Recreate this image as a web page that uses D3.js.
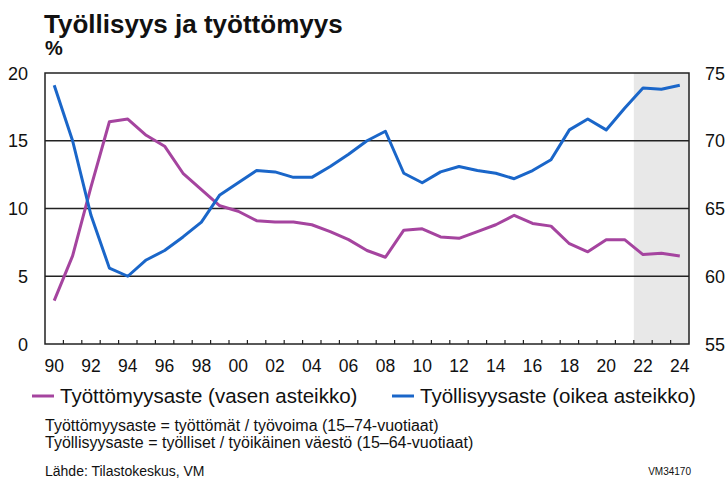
<!DOCTYPE html>
<html>
<head>
<meta charset="utf-8">
<script src="https://cdn.jsdelivr.net/npm/d3@7"></script>
<style>
  body { margin: 0; background: #fff; }
  svg { font-family: "Liberation Sans", Arial, sans-serif; }
</style>
</head>
<body>
<div id="chart"></div>
<script>
// Years on the x axis
var years = d3.range(1990, 2025);
// Työttömyysaste, % (left axis)
var unemployment = [3.2, 6.5, 11.6, 16.4, 16.6, 15.4, 14.6, 12.6, 11.4, 10.2,
	9.8, 9.1, 9.0, 9.0, 8.8, 8.3, 7.7, 6.9, 6.4, 8.4,
	8.5, 7.9, 7.8, 8.3, 8.8, 9.5, 8.9, 8.7, 7.4, 6.8,
	7.7, 7.7, 6.6, 6.7, 6.5];
// Työllisyysaste, % (right axis)
var employment = [74.1, 70.0, 64.5, 60.6, 60.0, 61.2, 61.9, 62.9, 64.0, 66.0,
	66.9, 67.8, 67.7, 67.3, 67.3, 68.1, 69.0, 70.0, 70.7, 67.6,
	66.9, 67.7, 68.1, 67.8, 67.6, 67.2, 67.8, 68.6, 70.8, 71.6,
	70.8, 72.4, 73.9, 73.8, 74.1];
// Forecast years (shaded)
var forecastYears = [2022, 2023, 2024];
var leftTicks = [0, 5, 10, 15, 20];
var rightTicks = [55, 60, 65, 70, 75];
var legendItems = [
	{ label: "Työttömyysaste (vasen asteikko)", color: "#a5449f" },
	{ label: "Työllisyysaste (oikea asteikko)", color: "#1a66c9" }
];
var notes = [
	"Työttömyysaste = työttömät / työvoima (15–74-vuotiaat)",
	"Työllisyysaste = työlliset / työikäinen väestö (15–64-vuotiaat)"
];

// Canvas parameters
var canvas = { width: 728, height: 478 };
var plot = { left: 45, right: 689, top: 73, bottom: 344 };

var svg = d3.select("#chart")
	.append("svg")
	.attr("width", canvas.width)
	.attr("height", canvas.height);

var x = d3.scaleBand()
	.domain(years)
	.range([plot.left, plot.right]);
var yLeft = d3.scaleLinear()
	.domain([0, 20])
	.range([plot.bottom, plot.top]);
var yRight = d3.scaleLinear()
	.domain([55, 75])
	.range([plot.bottom, plot.top]);
var cx = function(d) { return x(d) + x.bandwidth() / 2; };

// Forecast shading
svg.append("rect")
	.attr("x", x(forecastYears[0]))
	.attr("y", plot.top)
	.attr("width", x(forecastYears[forecastYears.length - 1]) + x.bandwidth() - x(forecastYears[0]))
	.attr("height", plot.bottom - plot.top)
	.attr("fill", "#e8e8e8");

// Grid lines
svg.selectAll("grid")
	.data(leftTicks.slice(1, -1))
	.enter()
	.append("line")
	.attr("x1", plot.left)
	.attr("x2", plot.right)
	.attr("y1", function(d) { return yLeft(d); })
	.attr("y2", function(d) { return yLeft(d); })
	.attr("stroke", "#222")
	.attr("stroke-width", 1.3);

// Frame
svg.append("rect")
	.attr("x", plot.left)
	.attr("y", plot.top)
	.attr("width", plot.right - plot.left)
	.attr("height", plot.bottom - plot.top)
	.attr("fill", "none")
	.attr("stroke", "#222")
	.attr("stroke-width", 1.5);

// Year ticks at band boundaries, pointing inward
svg.selectAll("ytick")
	.data(years.slice(1))
	.enter()
	.append("line")
	.attr("x1", function(d) { return x(d); })
	.attr("x2", function(d) { return x(d); })
	.attr("y1", plot.bottom)
	.attr("y2", plot.bottom - 4)
	.attr("stroke", "#222")
	.attr("stroke-width", 1.2);

// Year labels
svg.selectAll("xlabel")
	.data(years.filter(function(d) { return d % 2 === 0; }))
	.enter()
	.append("text")
	.text(function(d) { return String(d).slice(2); })
	.attr("x", cx)
	.attr("y", 372)
	.attr("text-anchor", "middle")
	.attr("font-size", "17.5px")
	.attr("fill", "#111");

// Left axis labels
svg.selectAll("llabel")
	.data(leftTicks)
	.enter()
	.append("text")
	.text(function(d) { return d; })
	.attr("x", 28)
	.attr("y", function(d) { return yLeft(d) + 6.5; })
	.attr("text-anchor", "end")
	.attr("font-size", "18px")
	.attr("fill", "#111");

// Right axis labels
svg.selectAll("rlabel")
	.data(rightTicks)
	.enter()
	.append("text")
	.text(function(d) { return d; })
	.attr("x", 705)
	.attr("y", function(d) { return yRight(d) + 6.5; })
	.attr("font-size", "18px")
	.attr("fill", "#111");

// Lines
var lineLeft = d3.line()
	.x(function(d, i) { return cx(years[i]); })
	.y(function(d) { return yLeft(d); });
var lineRight = d3.line()
	.x(function(d, i) { return cx(years[i]); })
	.y(function(d) { return yRight(d); });

svg.append("path")
	.attr("d", lineLeft(unemployment))
	.attr("fill", "none")
	.attr("stroke", legendItems[0].color)
	.attr("stroke-width", 3)
	.attr("stroke-linejoin", "round");
svg.append("path")
	.attr("d", lineRight(employment))
	.attr("fill", "none")
	.attr("stroke", legendItems[1].color)
	.attr("stroke-width", 3)
	.attr("stroke-linejoin", "round");

// Title
svg.append("text")
	.text("Työllisyys ja työttömyys")
	.attr("x", 44)
	.attr("y", 33)
	.attr("font-size", "26px")
	.attr("font-weight", "bold")
	.attr("fill", "#111");
svg.append("text")
	.text("%")
	.attr("x", 45)
	.attr("y", 55)
	.attr("font-size", "20px")
	.attr("font-weight", "bold")
	.attr("fill", "#111");

// Legend
var legendX = [32, 392];
var legend = svg.selectAll("legend")
	.data(legendItems)
	.enter()
	.append("g")
	.attr("transform", function(d, i) { return "translate(" + legendX[i] + ",396)"; });
legend.append("line")
	.attr("x1", 0)
	.attr("x2", 22)
	.attr("y1", 0)
	.attr("y2", 0)
	.attr("stroke", function(d) { return d.color; })
	.attr("stroke-width", 3);
legend.append("text")
	.text(function(d) { return d.label; })
	.attr("x", 28)
	.attr("y", 7)
	.attr("font-size", "20.5px")
	.attr("fill", "#111");

// Notes
svg.selectAll("note")
	.data(notes)
	.enter()
	.append("text")
	.text(function(d) { return d; })
	.attr("x", 45)
	.attr("y", function(d, i) { return 431 + i * 17; })
	.attr("font-size", "16px")
	.attr("fill", "#111");

svg.append("text")
	.text("Lähde: Tilastokeskus, VM")
	.attr("x", 45)
	.attr("y", 476)
	.attr("font-size", "14px")
	.attr("fill", "#111");
svg.append("text")
	.text("VM34170")
	.attr("x", 691)
	.attr("y", 475)
	.attr("text-anchor", "end")
	.attr("font-size", "10px")
	.attr("fill", "#111");
</script>
</body>
</html>
